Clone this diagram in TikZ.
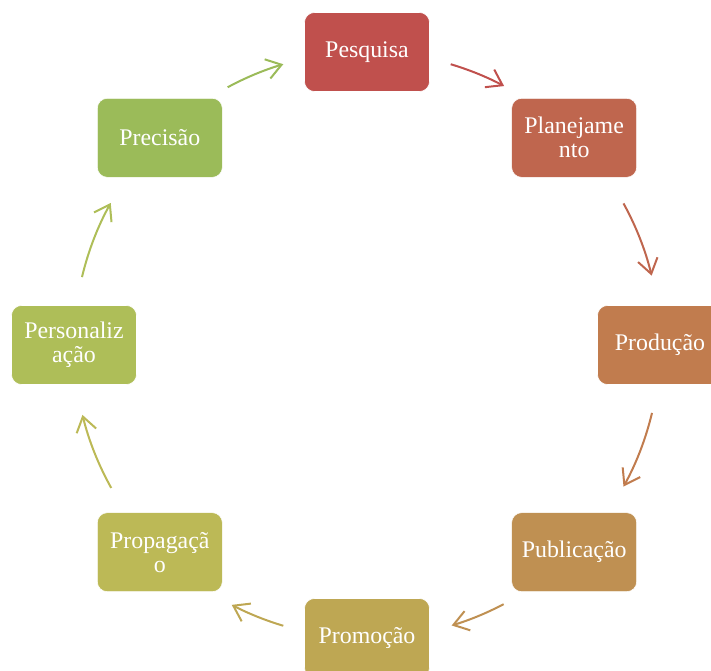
\documentclass[tikz,border=0pt]{standalone}
\usepackage{fontspec}
\setmainfont{Liberation Serif}
\usetikzlibrary{arrows.meta}

\definecolor{PesqRed}{HTML}{C0504D}
\definecolor{PlanRed}{HTML}{BF664E}
\definecolor{ProdOrange}{HTML}{C17C4E}
\definecolor{PubBrown}{HTML}{BF9052}
\definecolor{PromGold}{HTML}{BEA753}
\definecolor{PropOlive}{HTML}{BCB956}
\definecolor{PersLime}{HTML}{AEBE58}
\definecolor{PrecGreen}{HTML}{9BBB59}

\begin{document}
\begin{tikzpicture}[x=0.75pt, y=0.75pt]

% ---------------------------------------------------------
% Styles
% ---------------------------------------------------------
\tikzset{
    stage/.style={
        rectangle, rounded corners=7.5pt, draw=white, thin,
        minimum width=93.75pt, minimum height=59.25pt,
        inner sep=2pt, align=center, text=white,
        font=\fontsize{17.9pt}{18pt}\selectfont
    },
    cycle arrow/.style={
        line width=1.5pt, -{Straight Barb[length=11pt, width=15pt]}
    }
}

\useasboundingbox (-367,-326) rectangle (344,345);

% ---------------------------------------------------------
% Stages around the circle
% ---------------------------------------------------------
\node[stage, fill=PesqRed]   (Pesquisa)  at (90:293)   {Pesquisa};
\node[stage, fill=PlanRed]   (Planej)    at (45:293)   {Planejame\\nto};
\node[stage, fill=ProdOrange] (Producao) at (0:293)    {Produção};
\node[stage, fill=PubBrown]  (Publicacao) at (-45:293) {Publicação};
\node[stage, fill=PromGold]  (Promocao)  at (-90:293)  {Promoção};
\node[stage, fill=PropOlive] (Propag)    at (-135:293) {Propagaçã\\o};
\node[stage, fill=PersLime]  (Personal)  at (180:293)  {Personaliz\\ação};
\node[stage, fill=PrecGreen] (Precisao)  at (135:293)  {Precisão};

% ---------------------------------------------------------
% Arc ends
% ---------------------------------------------------------
\coordinate (PesqOut) at (73.4:293);
\coordinate (PlanOut) at (28.9:293);
\coordinate (ProdOut) at (-13.4:293);
\coordinate (PubOut)  at (-62.2:293);
\coordinate (PromOut) at (-106.6:293);
\coordinate (PropOut) at (-150.8:293);
\coordinate (PersOut) at (166.6:293);
\coordinate (PrecOut) at (118.4:293);

% ---------------------------------------------------------
% Cycle arrows
% ---------------------------------------------------------
\draw[cycle arrow, PesqRed]    (PesqOut) arc[start angle=73.4,   end angle=62.1,   radius=219.75pt];
\draw[cycle arrow, PlanRed]    (PlanOut) arc[start angle=28.9,   end angle=13.7,   radius=219.75pt];
\draw[cycle arrow, ProdOrange] (ProdOut) arc[start angle=-13.4,  end angle=-28.9,  radius=219.75pt];
\draw[cycle arrow, PubBrown]   (PubOut)  arc[start angle=-62.2,  end angle=-73.2,  radius=219.75pt];
\draw[cycle arrow, PromGold]   (PromOut) arc[start angle=-106.6, end angle=-117.5, radius=219.75pt];
\draw[cycle arrow, PropOlive]  (PropOut) arc[start angle=-150.8, end angle=-166.2, radius=219.75pt];
\draw[cycle arrow, PersLime]   (PersOut) arc[start angle=166.6,  end angle=151.0,  radius=219.75pt];
\draw[cycle arrow, PrecGreen]  (PrecOut) arc[start angle=118.4,  end angle=106.6,  radius=219.75pt];

\end{tikzpicture}
\end{document}
